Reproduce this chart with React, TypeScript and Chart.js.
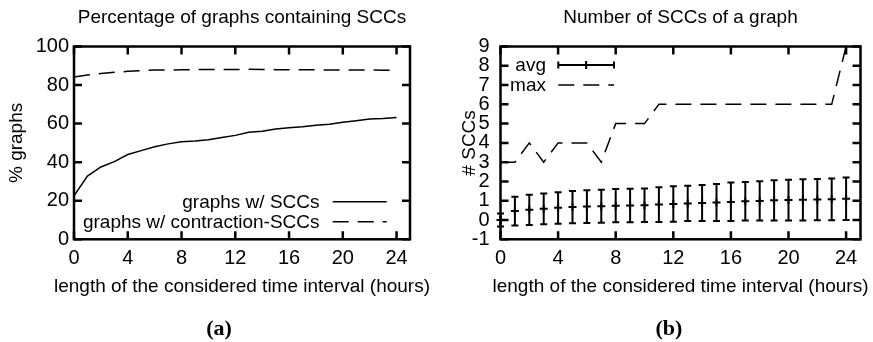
import React, { useEffect, useRef } from "react";
import { Chart, registerables } from "chart.js";
Chart.register(...registerables);

// ---------------- data ----------------
const hours = [0, 1, 2, 3, 4, 5, 6, 7, 8, 9, 10, 11, 12, 13, 14, 15, 16, 17, 18, 19, 20, 21, 22, 23, 24];
const pctWithSCCs = [22.5, 32.8, 37.5, 40.3, 44.0, 46.0, 48.0, 49.5, 50.6, 51.0, 51.6, 52.8, 53.9, 55.5, 56.0, 57.2, 57.8, 58.4, 59.2, 59.7, 60.7, 61.5, 62.4, 62.7, 63.2];
const pctWithContractionSCCs = [84.2, 85.2, 86.0, 86.6, 87.1, 87.5, 87.8, 87.8, 87.9, 88.0, 88.1, 88.1, 88.1, 88.2, 88.1, 88.0, 88.0, 87.9, 87.9, 87.8, 87.8, 87.8, 87.8, 87.7, 87.7];
const maxSCCs = [3, 3, 4, 3, 4, 4, 4, 3, 5, 5, 5, 6, 6, 6, 6, 6, 6, 6, 6, 6, 6, 6, 6, 6, 9];
const avgMean = [0.0, 0.47, 0.53, 0.58, 0.63, 0.67, 0.70, 0.72, 0.74, 0.75, 0.77, 0.80, 0.83, 0.86, 0.88, 0.91, 0.94, 0.97, 0.99, 1.02, 1.04, 1.05, 1.06, 1.08, 1.10];
const avgLow = [-0.34, -0.29, -0.26, -0.22, -0.19, -0.17, -0.15, -0.14, -0.12, -0.12, -0.10, -0.10, -0.09, -0.05, -0.05, -0.05, -0.05, -0.03, -0.03, -0.02, -0.02, -0.02, -0.01, -0.01, 0.0];
const avgHigh = [0.34, 1.21, 1.31, 1.37, 1.44, 1.51, 1.54, 1.57, 1.61, 1.62, 1.64, 1.70, 1.75, 1.78, 1.82, 1.87, 1.94, 1.97, 2.01, 2.06, 2.09, 2.11, 2.13, 2.16, 2.20];

const titleA = "Percentage of graphs containing SCCs";
const titleB = "Number of SCCs of a graph";
const xLabel = "length of the considered time interval (hours)";
const yLabelA = "% graphs";
const yLabelB = "# SCCs";
const legendA = ["graphs w/ SCCs", "graphs w/ contraction-SCCs"];
const legendB = ["avg", "max"];

const FONT = "'Liberation Sans', Arial, Helvetica, sans-serif";
const DASH = [16, 9];

// ---------------- plugins ----------------
const framePlugin = {
  id: "frame",
  afterDatasetsDraw(chart: any) {
    const { ctx, chartArea: a, scales } = chart;
    const xs = scales.x;
    const ys = scales.y;
    ctx.save();
    ctx.strokeStyle = "#000";
    ctx.lineWidth = 2.5;
    ctx.setLineDash([]);
    ctx.beginPath();
    xs.ticks.forEach((t: any) => {
      const px = xs.getPixelForValue(t.value);
      ctx.moveTo(px, a.bottom);
      ctx.lineTo(px, a.bottom - 8);
      ctx.moveTo(px, a.top);
      ctx.lineTo(px, a.top + 8);
    });
    ys.ticks.forEach((t: any) => {
      const py = ys.getPixelForValue(t.value);
      ctx.moveTo(a.left, py);
      ctx.lineTo(a.left + 8, py);
      ctx.moveTo(a.right, py);
      ctx.lineTo(a.right - 8, py);
    });
    ctx.stroke();
    ctx.strokeRect(a.left, a.top, a.right - a.left, a.bottom - a.top);
    // x-axis title (drawn unconstrained, centred on the plot area)
    ctx.fillStyle = "#000";
    ctx.font = `19px ${FONT}`;
    ctx.textAlign = "center";
    ctx.textBaseline = "middle";
    ctx.fillText(xLabel, (a.left + a.right) / 2, a.bottom + 47.6);
    ctx.restore();
  },
};

const errorBarPlugin = {
  id: "errorBars",
  afterDatasetsDraw(chart: any) {
    const { ctx, scales } = chart;
    const xs = scales.x;
    const ys = scales.y;
    ctx.save();
    ctx.strokeStyle = "#000";
    ctx.lineWidth = 2;
    ctx.setLineDash([]);
    ctx.beginPath();
    for (let i = 0; i < hours.length; i++) {
      const px = xs.getPixelForValue(hours[i]);
      const yl = ys.getPixelForValue(avgLow[i]);
      const yh = ys.getPixelForValue(avgHigh[i]);
      ctx.moveTo(px, yl);
      ctx.lineTo(px, yh);
      ctx.moveTo(px - 3.5, yl);
      ctx.lineTo(px + 3.5, yl);
      ctx.moveTo(px - 3.5, yh);
      ctx.lineTo(px + 3.5, yh);
    }
    ctx.stroke();
    ctx.restore();
  },
};

const legendPluginA = {
  id: "legendA",
  afterDatasetsDraw(chart: any) {
    const { ctx, chartArea: a } = chart;
    ctx.save();
    ctx.fillStyle = "#000";
    ctx.strokeStyle = "#000";
    ctx.font = `19px ${FONT}`;
    ctx.textAlign = "right";
    ctx.textBaseline = "middle";
    const rows = [a.bottom - 37.6, a.bottom - 17.6];
    const tx = a.right - 90.5;
    const s0 = a.right - 77.3;
    const s1 = a.right - 23.3;
    rows.forEach((y: number, i: number) => {
      ctx.fillText(legendA[i], tx, y + 1);
      ctx.lineWidth = 1.5;
      ctx.setLineDash(i === 0 ? [] : DASH);
      ctx.beginPath();
      ctx.moveTo(s0, y);
      ctx.lineTo(s1, y);
      ctx.stroke();
    });
    ctx.restore();
  },
};

const legendPluginB = {
  id: "legendB",
  afterDatasetsDraw(chart: any) {
    const { ctx, chartArea: a } = chart;
    ctx.save();
    ctx.fillStyle = "#000";
    ctx.strokeStyle = "#000";
    ctx.font = `19px ${FONT}`;
    ctx.textAlign = "right";
    ctx.textBaseline = "middle";
    const rows = [a.top + 18.5, a.top + 38.5];
    const tx = a.left + 45.5;
    const s0 = a.left + 57.8;
    const s1 = a.left + 113.5;
    rows.forEach((y: number, i: number) => {
      ctx.fillText(legendB[i], tx, y + 1);
    });
    // avg sample
    let y = rows[0];
    ctx.lineWidth = 2;
    ctx.setLineDash([]);
    ctx.beginPath();
    ctx.moveTo(s0, y);
    ctx.lineTo(s1, y);
    ctx.moveTo(s0, y - 3.5);
    ctx.lineTo(s0, y + 3.5);
    ctx.moveTo(s1, y - 3.5);
    ctx.lineTo(s1, y + 3.5);
    const m = (s0 + s1) / 2;
    ctx.moveTo(m, y - 4);
    ctx.lineTo(m, y + 4);
    ctx.stroke();
    // max sample
    y = rows[1];
    ctx.lineWidth = 1.5;
    ctx.setLineDash(DASH);
    ctx.beginPath();
    ctx.moveTo(s0, y);
    ctx.lineTo(s1, y);
    ctx.stroke();
    ctx.restore();
  },
};

// ---------------- config helpers ----------------
function xScale() {
  return {
    type: "linear",
    min: 0,
    max: 25,
    ticks: {
      stepSize: 4,
      includeBounds: false,
      autoSkip: false,
      color: "#000",
      padding: 7,
      font: { size: 20, family: FONT },
      maxRotation: 0,
    },
    grid: { display: false, drawTicks: false },
    border: { display: false },
    title: { display: false },
    afterFit(s: any) {
      s.height = 58.8;
    },
  };
}

function yScale(min: number, max: number, step: number, label: string, width: number, titlePad: number, tickPad: number) {
  return {
    type: "linear",
    min,
    max,
    ticks: {
      stepSize: step,
      autoSkip: false,
      color: "#000",
      padding: tickPad,
      font: { size: 20, family: FONT },
    },
    grid: { display: false, drawTicks: false },
    border: { display: false },
    title: {
      display: true,
      text: label,
      color: "#000",
      font: { size: 19, family: FONT },
      padding: { top: titlePad, bottom: 0 },
    },
    afterFit(s: any) {
      s.width = width;
    },
  };
}

function titleOpts(text: string) {
  return {
    display: true,
    text,
    color: "#000",
    fullSize: false,
    font: { size: 19, family: FONT, weight: "normal" },
    padding: { top: 6.6, bottom: 17.1 },
  };
}

function pts(ys: number[]) {
  return hours.map((h, i) => ({ x: h, y: ys[i] }));
}

// ---------------- components ----------------
function ChartA() {
  const ref = useRef<HTMLCanvasElement>(null);
  useEffect(() => {
    const chart = new Chart(ref.current as HTMLCanvasElement, {
      type: "line",
      data: {
        datasets: [
          {
            label: legendA[0],
            data: pts(pctWithSCCs),
            borderColor: "#000",
            borderWidth: 1.5,
            pointRadius: 0,
            tension: 0,
          },
          {
            label: legendA[1],
            data: pts(pctWithContractionSCCs),
            borderColor: "#000",
            borderWidth: 1.5,
            borderDash: DASH,
            pointRadius: 0,
            tension: 0,
          },
        ],
      } as any,
      options: {
        animation: false,
        responsive: false,
        devicePixelRatio: 1,
        layout: { padding: { left: 0, right: 30, top: 0, bottom: 43.9 } },
        plugins: {
          legend: { display: false },
          tooltip: { enabled: false },
          title: titleOpts(titleA),
        },
        scales: {
          x: xScale(),
          y: yScale(0, 100, 20, yLabelA, 74, 5.3, 5),
        },
      } as any,
      plugins: [legendPluginA, framePlugin],
    });
    return () => chart.destroy();
  }, []);
  return <canvas ref={ref} width={440} height={342} style={{ position: "absolute", left: 0, top: 0, width: 440, height: 342 }} />;
}

function ChartB() {
  const ref = useRef<HTMLCanvasElement>(null);
  useEffect(() => {
    const chart = new Chart(ref.current as HTMLCanvasElement, {
      type: "line",
      data: {
        datasets: [
          {
            label: legendB[0],
            data: pts(avgMean),
            borderColor: "#000",
            borderWidth: 0,
            showLine: false,
            pointStyle: "cross",
            pointRadius: 4,
            pointBorderWidth: 2,
            pointBorderColor: "#000",
            clip: false,
          },
          {
            label: legendB[1],
            data: pts(maxSCCs),
            borderColor: "#000",
            borderWidth: 1.5,
            borderDash: DASH,
            pointRadius: 0,
            tension: 0,
          },
        ],
      } as any,
      options: {
        animation: false,
        responsive: false,
        devicePixelRatio: 1,
        layout: { padding: { left: 0, right: 12.5, top: 0, bottom: 43.9 } },
        plugins: {
          legend: { display: false },
          tooltip: { enabled: false },
          title: titleOpts(titleB),
        },
        scales: {
          x: xScale(),
          y: yScale(-1, 9, 1, yLabelB, 60.5, 17.9, 11),
        },
      } as any,
      plugins: [errorBarPlugin, legendPluginB, framePlugin],
    });
    return () => chart.destroy();
  }, []);
  return <canvas ref={ref} width={433} height={342} style={{ position: "absolute", left: 440, top: 0, width: 433, height: 342 }} />;
}

const capStyle: React.CSSProperties = {
  position: "absolute",
  top: 315,
  width: 100,
  textAlign: "center",
  fontFamily: "'Liberation Serif', 'Times New Roman', serif",
  fontWeight: "bold",
  fontSize: 22,
  lineHeight: "26px",
  color: "#000",
};

export default function App() {
  return (
    <div style={{ position: "absolute", left: 0, top: 0, width: 873, height: 342, background: "#fff", overflow: "hidden" }}>
      <ChartA />
      <ChartB />
      <div style={{ ...capStyle, left: 219 - 50 }}>(a)</div>
      <div style={{ ...capStyle, left: 669 - 50 }}>(b)</div>
    </div>
  );
}
